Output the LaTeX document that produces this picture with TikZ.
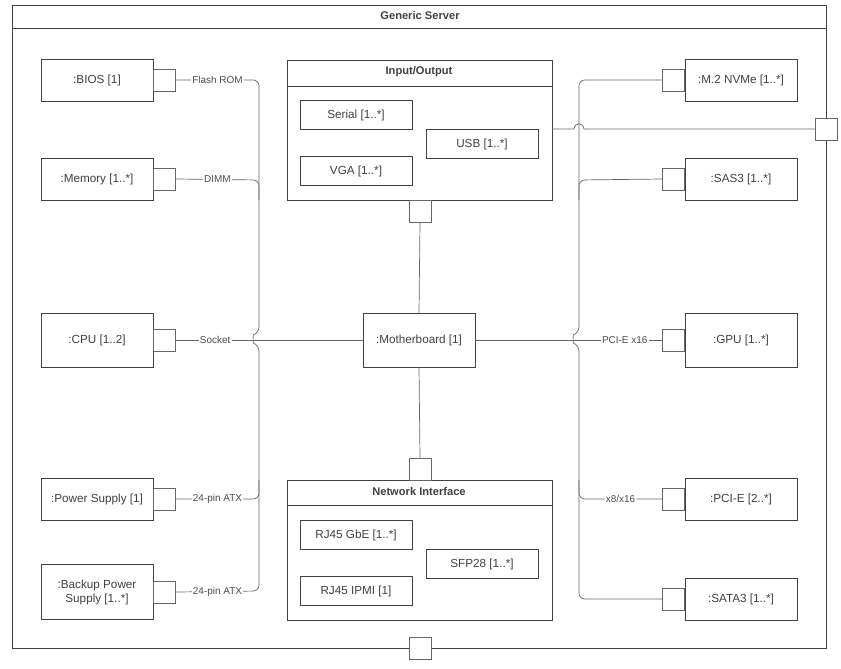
\documentclass[tikz,border=0pt]{standalone}
\usepackage{fontspec}
\setmainfont{Liberation Sans}
\usetikzlibrary{positioning}
\begin{document}
\begin{tikzpicture}[x=0.03cm, y=-0.03cm]
  \tikzset{
    part/.style={rectangle, draw=black!75, thick, minimum width=112*0.03cm, minimum height=42*0.03cm, align=center, font=\fontsize{10}{12}\selectfont, text=black!75},
    sub/.style={rectangle, draw=black!75, thick, minimum width=112*0.03cm, minimum height=29*0.03cm, font=\fontsize{10}{12}\selectfont, text=black!75},
    port/.style={rectangle, draw=black!60, fill=white, minimum size=22*0.03cm, inner sep=0pt},
    wire/.style={draw=black!60, semithick, rounded corners=5pt},
    link/.style={draw=black!60, semithick},
    lbl/.style={fill=white, inner sep=1pt, font=\fontsize{8.5}{10}\selectfont, text=black!70}
  }
  \useasboundingbox (0,0) rectangle (841,668);
  % frame
  \draw[black!75, thick] (12,5) rectangle (826,648);
  \draw[black!75, thick] (12,28) -- (826,28);
  \node[font=\bfseries\fontsize{9.5}{11}\selectfont, text=black!75] (title) at (420,16) {Generic Server};

  % left parts
  \node[part] (bios) at (97,80) {:BIOS [1]};
  \node[part] (mem) at (97,179) {:Memory [1..*]};
  \node[part, minimum height=54*0.03cm] (cpu) at (97,340) {:CPU [1..2]};
  \node[part] (psu) at (97,499) {:Power Supply [1]};
  \node[part, minimum height=55*0.03cm] (bpsu) at (97,592) {:Backup Power\\Supply [1..*]};
  \foreach \n in {bios,mem,cpu,psu,bpsu}
    \node[port, anchor=west] (\n P) at (\n.east) {};

  % right parts
  \node[part] (nvme) at (741,80) {:M.2 NVMe [1..*]};
  \node[part] (sas) at (741,179) {:SAS3 [1..*]};
  \node[part, minimum height=54*0.03cm] (gpu) at (741,340) {:GPU [1..*]};
  \node[part] (pcie) at (741,499) {:PCI-E [2..*]};
  \node[part] (sata) at (741,599) {:SATA3 [1..*]};
  \foreach \n in {nvme,sas,gpu,pcie,sata}
    \node[port, anchor=east] (\n P) at (\n.west) {};

  % motherboard
  \node[part, minimum height=54*0.03cm] (mb) at (419,340) {:Motherboard [1]};

  % input/output
  \draw[black!75, thick] (287,60) rectangle (552,200);
  \draw[black!75, thick] (287,86) -- (552,86);
  \node[font=\bfseries\fontsize{9.5}{11}\selectfont, text=black!75] (io) at (419,72) {Input/Output};
  \node[sub] (serial) at (356,115) {Serial [1..*]};
  \node[sub] (usb) at (482,144) {USB [1..*]};
  \node[sub] (vga) at (356,171) {VGA [1..*]};
  \node[port] (ioP) at (420,211) {};
  \node[port] (extP) at (826,129) {};

  % network interface
  \draw[black!75, thick] (287,480) rectangle (552,620);
  \draw[black!75, thick] (287,505) -- (552,505);
  \node[font=\bfseries\fontsize{9.5}{11}\selectfont, text=black!75] (net) at (419,492) {Network Interface};
  \node[sub] (gbe) at (356,535) {RJ45 GbE [1..*]};
  \node[sub] (sfp) at (482,564) {SFP28 [1..*]};
  \node[sub] (ipmi) at (356,591) {RJ45 IPMI [1]};
  \node[port] (netP) at (420,469) {};
  \node[port] (lanP) at (420,648) {};

  % left bus
  \draw[wire] (biosP.east) -- node[lbl]{Flash ROM} (259,80) -- (259,333)
    .. controls (253,335) and (253,343) .. (259,345) -- (259,591) -- node[lbl]{24-pin ATX} (bpsuP.east);
  \draw[wire] (memP.east) -- node[lbl]{DIMM} (259,180) -- (259,200);
  \draw[wire] (psuP.east) -- node[lbl]{24-pin ATX} (259,499) -- (259,480);
  \draw[link] (cpuP.east) -- node[lbl, pos=0.21]{Socket} (mb.west);

  % right bus
  \draw[wire] (nvmeP.west) -- (579,80) -- (579,333)
    .. controls (573,335) and (573,343) .. (579,345) -- (579,599) -- (sataP.west);
  \draw[wire] (sasP.west) -- (579,180) -- (579,200);
  \draw[wire] (pcieP.west) -- node[lbl]{x8/x16} (579,499) -- (579,480);
  \draw[link] (mb.east) -- node[lbl, pos=0.8]{PCI-E x16} (gpuP.west);

  % middle links
  \draw[link] (552,129) -- (574,129) .. controls (575,122) and (583,122) .. (584,129) -- (extP.west);
  \draw[link] (ioP.south) -- (mb.north);
  \draw[link] (mb.south) -- (netP.north);
\end{tikzpicture}
\end{document}
